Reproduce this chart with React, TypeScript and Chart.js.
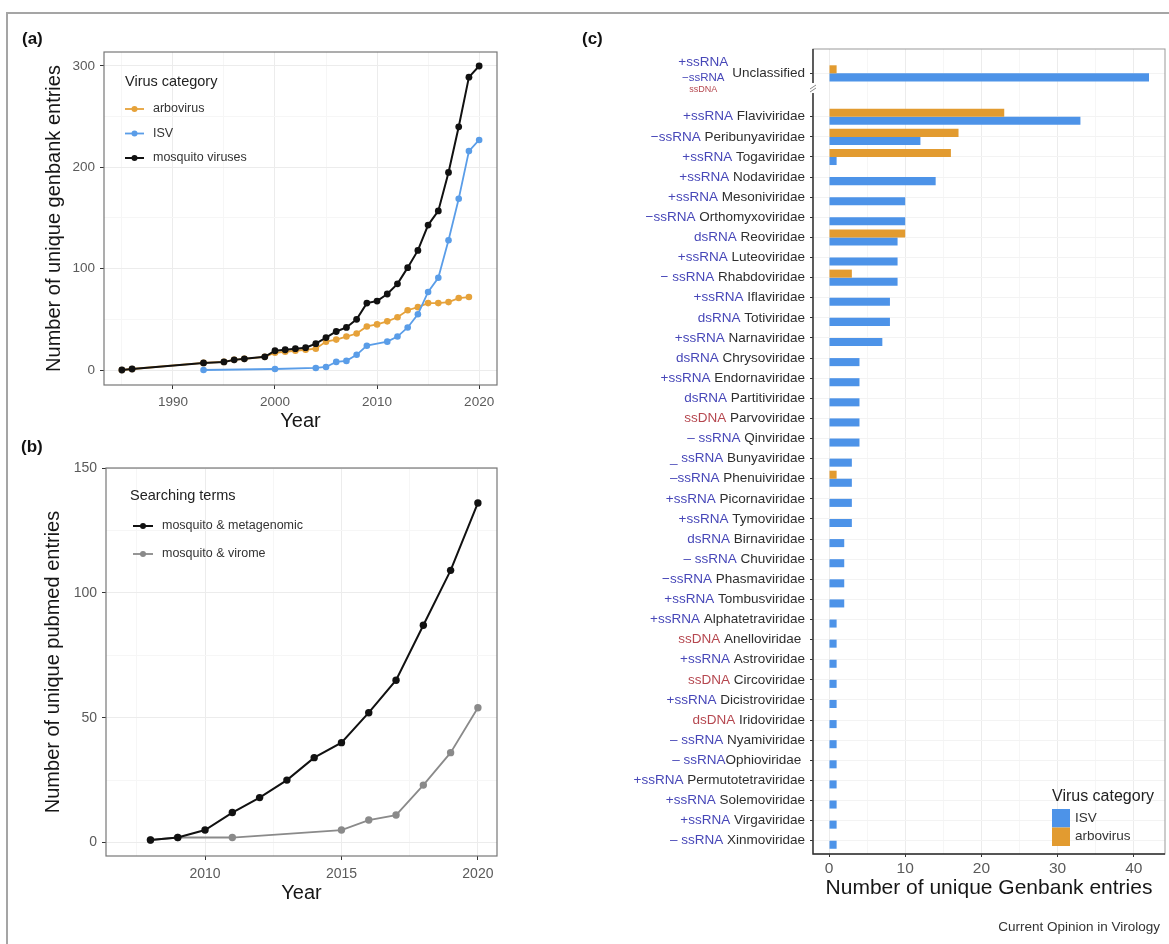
import React, { useEffect, useRef } from "react";
import { Chart, registerables } from "chart.js";

Chart.register(...registerables);

const FONT = "'Liberation Sans', Arial, Helvetica, sans-serif";
const ORANGE = "#e29b30";
const BLUE = "#4d93e8";

// ---------- (a) GenBank entries per year ----------
const genbankYears = [1985, 1986, 1993, 1995, 1996, 1997, 1999, 2000, 2001, 2002, 2003, 2004, 2005, 2006, 2007, 2008, 2009, 2010, 2011, 2012, 2013, 2014, 2015, 2016, 2017, 2018, 2019, 2020];
const mosquitoVirusCounts = [0, 1, 7, 8, 10, 11, 13, 19, 20, 21, 22, 26, 32, 38, 42, 50, 66, 68, 75, 85, 101, 118, 143, 157, 195, 240, 289, 300];

const arbovirusYears = [1985, 1986, 1993, 1995, 1996, 1997, 1999, 2000, 2001, 2002, 2003, 2004, 2005, 2006, 2007, 2008, 2009, 2010, 2011, 2012, 2013, 2014, 2015, 2016, 2017, 2018, 2019];
const arbovirusCounts = [0, 1, 7, 8, 10, 11, 13, 17, 18, 19, 20, 21, 28, 30, 33, 36, 43, 45, 48, 52, 59, 62, 66, 66, 67, 71, 72];

const isvYears = [1993, 2000, 2004, 2005, 2006, 2007, 2008, 2009, 2011, 2012, 2013, 2014, 2015, 2016, 2017, 2018, 2019, 2020];
const isvCounts = [0, 1, 2, 3, 8, 9, 15, 24, 28, 33, 42, 55, 77, 91, 128, 169, 216, 227];

const genbankYearTicks = [1990, 2000, 2010, 2020];
const genbankYearMinor = [1985, 1995, 2005, 2015];
const genbankCountTicks = [0, 100, 200, 300];
const genbankCountMinor = [50, 150, 250];

// ---------- (b) PubMed entries per year ----------
const pubmedYears = [2008, 2009, 2010, 2011, 2012, 2013, 2014, 2015, 2016, 2017, 2018, 2019, 2020];
const metagenomicCounts = [1, 2, 5, 12, 18, 25, 34, 40, 52, 65, 87, 109, 136];

const viromeYears = [2008, 2009, 2011, 2015, 2016, 2017, 2018, 2019, 2020];
const viromeCounts = [1, 2, 2, 5, 9, 11, 23, 36, 54];

const pubmedYearTicks = [2010, 2015, 2020];
const pubmedYearMinor = [2007.5, 2012.5, 2017.5];
const pubmedCountTicks = [0, 50, 100, 150];
const pubmedCountMinor = [25, 75, 125];

// ---------- (c) GenBank entries per virus family ----------
const unclassifiedGenomes = ["+ssRNA", "\u2212ssRNA", "ssDNA"];
const unclassifiedIsv = 42;
const unclassifiedArbo = 1;

const familyNames = [
  "Flaviviridae", "Peribunyaviridae", "Togaviridae", "Nodaviridae", "Mesoniviridae",
  "Orthomyxoviridae", "Reoviridae", "Luteoviridae", "Rhabdoviridae", "Iflaviridae",
  "Totiviridae", "Narnaviridae", "Chrysoviridae", "Endornaviridae", "Partitiviridae",
  "Parvoviridae", "Qinviridae", "Bunyaviridae", "Phenuiviridae", "Picornaviridae",
  "Tymoviridae", "Birnaviridae", "Chuviridae", "Phasmaviridae", "Tombusviridae",
  "Alphatetraviridae", "Anelloviridae ", "Astroviridae", "Circoviridae", "Dicistroviridae",
  "Iridoviridae", "Nyamiviridae", "Ophioviridae ", "Permutotetraviridae", "Solemoviridae",
  "Virgaviridae", "Xinmoviridae",
];
const familyGenomes = [
  "+ssRNA ", "\u2212ssRNA ", "+ssRNA ", "+ssRNA ", "+ssRNA ",
  "\u2212ssRNA ", "dsRNA ", "+ssRNA ", "\u2212 ssRNA ", "+ssRNA ",
  "dsRNA ", "+ssRNA ", "dsRNA ", "+ssRNA ", "dsRNA ",
  "ssDNA ", "\u2013 ssRNA ", "_ ssRNA ", "\u2013ssRNA ", "+ssRNA ",
  "+ssRNA ", "dsRNA ", "\u2013 ssRNA ", "\u2212ssRNA ", "+ssRNA ",
  "+ssRNA ", "ssDNA ", "+ssRNA ", "ssDNA ", "+ssRNA ",
  "dsDNA ", "\u2013 ssRNA ", "\u2013 ssRNA", "+ssRNA ", "+ssRNA ",
  "+ssRNA ", "\u2013 ssRNA ",
];
const familyIsvCounts = [33, 12, 1, 14, 10, 10, 9, 9, 9, 8, 8, 7, 4, 4, 4, 4, 4, 3, 3, 3, 3, 2, 2, 2, 2, 1, 1, 1, 1, 1, 1, 1, 1, 1, 1, 1, 1];
const familyArboCounts = [23, 17, 16, 0, 0, 0, 10, 0, 3, 0, 0, 0, 0, 0, 0, 0, 0, 0, 1, 0, 0, 0, 0, 0, 0, 0, 0, 0, 0, 0, 0, 0, 0, 0, 0, 0, 0];

const entryTicks = [0, 10, 20, 30, 40];
const entryMinor = [5, 15, 25, 35];

// row layout: Unclassified sits above a broken axis, families follow at unit spacing
const UNCLASSIFIED_ROW = -2.16;
const AXIS_BREAK_AT = -1.43;
const rowLabels = ["Unclassified", ...familyNames];
const rowPositions = [UNCLASSIFIED_ROW, ...familyNames.map((_, i) => i)];
const rowIsv = [unclassifiedIsv, ...familyIsvCounts];
const rowArbo = [unclassifiedArbo, ...familyArboCounts];

// ---------- shared helpers ----------
function gridAxis(o: any) {
  const majors = new Set(o.majors);
  const all = [...o.majors, ...(o.minors || [])].sort((a: number, b: number) => a - b);
  return {
    type: "linear",
    position: o.position,
    min: o.min,
    max: o.max,
    offset: false,
    reverse: !!o.reverse,
    afterBuildTicks: (s: any) => {
      s.ticks = all.map((v: number) => ({ value: v }));
    },
    afterFit: o.fit,
    grid: {
      offset: false,
      color: (c: any) => (majors.has(c.tick && c.tick.value) ? o.gridMajor || "#ececec" : "#f6f6f6"),
      tickColor: (c: any) => (majors.has(c.tick && c.tick.value) ? "#333" : "rgba(0,0,0,0)"),
      tickLength: o.tickLength || 4,
      drawTicks: true,
      lineWidth: 1,
    },
    border: { display: false },
    ticks: {
      display: o.showLabels !== false,
      autoSkip: false,
      maxRotation: 0,
      padding: o.tickPad,
      color: "#5a5a5a",
      font: { family: FONT, size: o.size },
      callback: (v: number) => (majors.has(v) ? String(v) : ""),
    },
    title: o.title
      ? {
          display: true,
          text: o.title,
          color: "#161616",
          font: { family: FONT, size: o.titleSize },
          padding: o.titlePad,
        }
      : { display: false },
  };
}

const panelFrame = {
  id: "panelFrame",
  afterDatasetsDraw(chart: any, _a: any, o: any) {
    const { ctx, chartArea } = chart;
    const { left, top, right, bottom } = chartArea;
    ctx.save();
    ctx.strokeStyle = o.color;
    ctx.lineWidth = o.width;
    ctx.strokeRect(left, top, right - left, bottom - top);
    if (o.axisColor) {
      ctx.strokeStyle = o.axisColor;
      ctx.lineWidth = 1.4;
      ctx.beginPath();
      ctx.moveTo(left, top);
      ctx.lineTo(left, bottom);
      ctx.lineTo(right, bottom);
      ctx.stroke();
    }
    ctx.restore();
  },
};

const lineLegend = {
  id: "lineLegend",
  afterDraw(chart: any, _a: any, o: any) {
    const { ctx } = chart;
    ctx.save();
    ctx.textBaseline = "middle";
    ctx.textAlign = "left";
    ctx.fillStyle = "#222";
    ctx.font = `${o.titleSize}px ${FONT}`;
    ctx.fillText(o.title, o.x, o.titleY);
    ctx.font = `${o.itemSize}px ${FONT}`;
    chart.data.datasets.forEach((ds: any, i: number) => {
      const y = o.firstY + i * o.rowGap;
      ctx.strokeStyle = ds.borderColor;
      ctx.lineWidth = ds.borderWidth;
      ctx.beginPath();
      ctx.moveTo(o.keyX, y);
      ctx.lineTo(o.keyX + o.keyWidth, y);
      ctx.stroke();
      ctx.fillStyle = ds.borderColor;
      ctx.beginPath();
      ctx.arc(o.keyX + o.keyWidth / 2, y, o.pointRadius, 0, Math.PI * 2);
      ctx.fill();
      ctx.fillStyle = "#333";
      ctx.fillText(ds.label, o.labelX, y);
    });
    ctx.restore();
  },
};

function lineSeries(label: string, xs: number[], ys: number[], color: string, width: number, radius: number, order: number) {
  return {
    label,
    data: xs.map((x, i) => ({ x, y: ys[i] })),
    borderColor: color,
    backgroundColor: color,
    pointBackgroundColor: color,
    pointBorderColor: color,
    pointBorderWidth: 0,
    pointRadius: radius,
    borderWidth: width,
    tension: 0,
    order,
  };
}

function ChartCanvas({ width, height, build }: { width: number; height: number; build: (c: HTMLCanvasElement) => Chart }) {
  const ref = useRef<HTMLCanvasElement>(null);
  useEffect(() => {
    const chart = build(ref.current as HTMLCanvasElement);
    return () => chart.destroy();
  }, []);
  return (
    <canvas
      ref={ref}
      width={width}
      height={height}
      style={{ position: "absolute", left: 0, top: 0, width, height }}
    />
  );
}

// ---------- (a) ----------
function buildGenbankTrend(canvas: HTMLCanvasElement) {
  return new Chart(canvas, {
    type: "line",
    data: {
      datasets: [
        lineSeries("arbovirus", arbovirusYears, arbovirusCounts, "#e6a23a", 1.8, 3.3, 2),
        lineSeries("ISV", isvYears, isvCounts, "#5a9de8", 1.8, 3.3, 1),
        lineSeries("mosquito viruses", genbankYears, mosquitoVirusCounts, "#111111", 2, 3.4, 0),
      ],
    },
    options: {
      responsive: false,
      animation: false,
      events: [],
      layout: { padding: { top: 52, right: 43, bottom: 0, left: 0 } },
      scales: {
        x: gridAxis({
          position: "bottom", min: 1983.25, max: 2021.75,
          majors: genbankYearTicks, minors: genbankYearMinor,
          size: 13.5, tickPad: 5, title: "Year", titleSize: 20, titlePad: { top: 0, bottom: 7 },
          fit: (s: any) => { s.height = 55; },
        }),
        y: gridAxis({
          position: "left", min: -14.8, max: 313.8,
          majors: genbankCountTicks, minors: genbankCountMinor,
          size: 13.5, tickPad: 5, title: "Number of unique genbank entries", titleSize: 20, titlePad: { top: 42, bottom: 0 },
          fit: (s: any) => { s.width = 104; },
        }),
      },
      plugins: {
        legend: { display: false },
        tooltip: { enabled: false },
        panelFrame: { color: "#777", width: 1.2 },
        lineLegend: {
          title: "Virus category", titleSize: 14.5, itemSize: 12.5,
          x: 125, titleY: 82, firstY: 109, rowGap: 24.5,
          keyX: 125, keyWidth: 19, pointRadius: 3, labelX: 153,
        },
      },
    } as any,
    plugins: [panelFrame, lineLegend],
  } as any);
}

// ---------- (b) ----------
function buildPubmedTrend(canvas: HTMLCanvasElement) {
  return new Chart(canvas, {
    type: "line",
    data: {
      datasets: [
        lineSeries("mosquito & metagenomic", pubmedYears, metagenomicCounts, "#111111", 2, 3.7, 0),
        lineSeries("mosquito & virome", viromeYears, viromeCounts, "#8a8a8a", 1.8, 3.7, 1),
      ],
    },
    options: {
      responsive: false,
      animation: false,
      events: [],
      layout: { padding: { top: 468, right: 43, bottom: 0, left: 0 } },
      scales: {
        x: gridAxis({
          position: "bottom", min: 2006.37, max: 2020.7,
          majors: pubmedYearTicks, minors: pubmedYearMinor,
          size: 14, tickPad: 5.5, title: "Year", titleSize: 20, titlePad: { top: 0, bottom: 39 },
          fit: (s: any) => { s.height = 88; },
        }),
        y: gridAxis({
          position: "left", min: -5.4, max: 150,
          majors: pubmedCountTicks, minors: pubmedCountMinor,
          size: 14, tickPad: 5, title: "Number of unique pubmed entries", titleSize: 20, titlePad: { top: 41, bottom: 0 },
          fit: (s: any) => { s.width = 106; },
        }),
      },
      plugins: {
        legend: { display: false },
        tooltip: { enabled: false },
        panelFrame: { color: "#777", width: 1.2 },
        lineLegend: {
          title: "Searching terms", titleSize: 14.5, itemSize: 12.5,
          x: 130, titleY: 496, firstY: 526, rowGap: 28,
          keyX: 133, keyWidth: 20, pointRadius: 3, labelX: 162,
        },
      },
    } as any,
    plugins: [panelFrame, lineLegend],
  } as any);
}

// ---------- (c) ----------
const familyLabels = {
  id: "familyLabels",
  afterDraw(chart: any, _a: any, o: any) {
    const { ctx, chartArea } = chart;
    const yScale = chart.scales.y;
    const right = chartArea.left - o.gap;
    ctx.save();
    ctx.textBaseline = "middle";
    ctx.textAlign = "right";
    rowLabels.forEach((name, i) => {
      const y = yScale.getPixelForValue(rowPositions[i]);
      ctx.font = `${o.size}px ${FONT}`;
      ctx.fillStyle = "#2e2e2e";
      ctx.textAlign = "right";
      ctx.fillText(name, right, y);
      const nameW = ctx.measureText(name).width;
      if (i === 0) {
        const cx = right - nameW - 29;
        const sizes = [13.5, 11.5, 9];
        const offsets = [-11, 4, 16];
        ctx.textAlign = "center";
        unclassifiedGenomes.forEach((g, k) => {
          ctx.font = `${sizes[k]}px ${FONT}`;
          ctx.fillStyle = g.indexOf("DNA") >= 0 ? "#b5474f" : "#4747b8";
          ctx.fillText(g, cx, y + offsets[k]);
        });
      } else {
        const g = familyGenomes[i - 1];
        ctx.fillStyle = g.indexOf("DNA") >= 0 ? "#b5474f" : "#4747b8";
        ctx.fillText(g, right - nameW, y);
      }
    });
    ctx.restore();
  },
};

const axisBreak = {
  id: "axisBreak",
  afterDraw(chart: any) {
    const { ctx, chartArea } = chart;
    const y = chart.scales.y.getPixelForValue(AXIS_BREAK_AT);
    const x = chartArea.left;
    ctx.save();
    ctx.fillStyle = "#ffffff";
    ctx.fillRect(x - 2, y - 5, 4, 10);
    ctx.strokeStyle = "#8a8a8a";
    ctx.lineWidth = 1;
    ctx.beginPath();
    ctx.moveTo(x - 3, y + 1);
    ctx.lineTo(x + 3, y - 3);
    ctx.moveTo(x - 3, y + 4);
    ctx.lineTo(x + 3, y);
    ctx.stroke();
    ctx.restore();
  },
};

const barLegend = {
  id: "barLegend",
  afterDraw(chart: any, _a: any, o: any) {
    const { ctx } = chart;
    ctx.save();
    ctx.textBaseline = "middle";
    ctx.textAlign = "left";
    ctx.fillStyle = "#222";
    ctx.font = `${o.titleSize}px ${FONT}`;
    ctx.fillText(o.title, o.x, o.titleY);
    ctx.font = `${o.itemSize}px ${FONT}`;
    const items = chart.data.datasets.slice().reverse();
    items.forEach((ds: any, i: number) => {
      const top = o.keyTop + i * o.keyHeight;
      ctx.fillStyle = ds.backgroundColor;
      ctx.fillRect(o.x, top, o.keyWidth, o.keyHeight);
      ctx.fillStyle = "#333";
      ctx.fillText(ds.label, o.x + o.keyWidth + 5, top + o.keyHeight / 2);
    });
    ctx.restore();
  },
};

function buildFamilyBars(canvas: HTMLCanvasElement) {
  return new Chart(canvas, {
    type: "bar",
    data: {
      datasets: [
        {
          label: "arbovirus",
          data: rowPositions.map((y, i) => ({ x: rowArbo[i], y })),
          backgroundColor: ORANGE,
          borderWidth: 0,
        },
        {
          label: "ISV",
          data: rowPositions.map((y, i) => ({ x: rowIsv[i], y })),
          backgroundColor: BLUE,
          borderWidth: 0,
        },
      ],
    },
    options: {
      responsive: false,
      animation: false,
      events: [],
      indexAxis: "y",
      datasets: { bar: { categoryPercentage: 0.8, barPercentage: 1 } },
      layout: { padding: { top: 49, right: 4, bottom: 0, left: 0 } },
      scales: {
        x: gridAxis({
          position: "bottom", min: -2.1, max: 44.1,
          majors: entryTicks, minors: entryMinor,
          size: 15.5, tickPad: 2, tickLength: 3,
          title: "Number of unique Genbank entries", titleSize: 21, titlePad: { top: 0, bottom: 43 },
          fit: (s: any) => { s.height = 90; },
        }),
        y: gridAxis({
          position: "left", min: -3.37, max: 36.66, reverse: true,
          majors: rowPositions, minors: [],
          size: 13.5, tickPad: 5, tickLength: 3, showLabels: false, gridMajor: "#f3f3f3",
          fit: (s: any) => { s.width = 813; },
        }),
      },
      plugins: {
        legend: { display: false },
        tooltip: { enabled: false },
        panelFrame: { color: "#999", width: 1, axisColor: "#2f2f2f" },
        familyLabels: { gap: 8, size: 13.5 },
        barLegend: {
          title: "Virus category", titleSize: 16, itemSize: 13.5,
          x: 1052, titleY: 797, keyTop: 809, keyWidth: 18, keyHeight: 18.5,
        },
      },
    } as any,
    plugins: [panelFrame, axisBreak, familyLabels, barLegend],
  } as any);
}

const panelTag: React.CSSProperties = {
  position: "absolute",
  font: `bold 17px ${FONT}`,
  lineHeight: "20px",
  color: "#111",
};

export default function App() {
  return (
    <div
      style={{
        position: "absolute",
        left: 0,
        top: 0,
        width: 1169,
        height: 944,
        overflow: "hidden",
        background: "#ffffff",
        fontFamily: FONT,
      }}
    >
      <div
        style={{
          position: "absolute",
          left: 6,
          top: 12,
          width: 1200,
          height: 1000,
          borderLeft: "2px solid #a5a5a5",
          borderTop: "2px solid #a5a5a5",
        }}
      />
      <ChartCanvas width={540} height={440} build={buildGenbankTrend} />
      <ChartCanvas width={540} height={944} build={buildPubmedTrend} />
      <ChartCanvas width={1169} height={944} build={buildFamilyBars} />
      <div style={{ ...panelTag, left: 22, top: 29 }}>(a)</div>
      <div style={{ ...panelTag, left: 21, top: 437 }}>(b)</div>
      <div style={{ ...panelTag, left: 582, top: 29 }}>(c)</div>
      <div
        style={{
          position: "absolute",
          right: 9,
          top: 919,
          font: `13.5px ${FONT}`,
          lineHeight: "16px",
          color: "#333",
        }}
      >
        Current Opinion in Virology
      </div>
    </div>
  );
}
